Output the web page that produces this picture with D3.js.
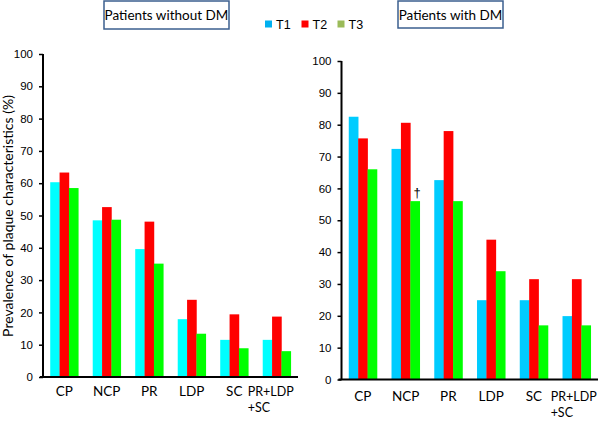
<!DOCTYPE html>
<html><head><meta charset="utf-8">
<script src="https://cdn.jsdelivr.net/npm/d3@7"></script>
<style>body{margin:0;background:#fff}svg{display:block}</style>
</head><body>
<svg id="c" width="600" height="421"></svg>
<script>
const categories = ["CP","NCP","PR","LDP","SC","PR+LDP\n+SC"];
const seriesNames = ["T1","T2","T3"];
const withoutDM_T1 = [60.3, 48.5, 39.6, 17.9, 11.5, 11.5];
const withoutDM_T2 = [63.3, 52.6, 48.1, 23.9, 19.4, 18.7];
const withoutDM_T3 = [58.5, 48.7, 35.1, 13.4, 8.9, 8.0];
const withDM_T1 = [82.5, 72.4, 62.6, 24.9, 24.9, 19.9];
const withDM_T2 = [75.7, 80.6, 78.0, 43.9, 31.5, 31.5];
const withDM_T3 = [66.0, 56.0, 56.0, 34.0, 17.0, 17.0];
const yTicks = [0,10,20,30,40,50,60,70,80,90,100];
const titles = ["Patients without DM","Patients with DM"];

const svg = d3.select("#c");
const labelFont = "Lato, 'Open Sans', sans-serif";
const tickFont = "'Liberation Sans', Arial, sans-serif";

function panel(cfg){
  const g = svg.append("g");
  const y = d3.scaleLinear().domain([0,100]).range([cfg.y0, cfg.y100]);
  const x = d3.scaleBand().domain(categories).range([cfg.x0, cfg.x1]).paddingInner(0.34).paddingOuter(0.17);
  const xs = d3.scaleBand().domain(seriesNames).range([0, x.bandwidth()]);
  const data = cfg.series;
  categories.forEach((c,i)=>{
    seriesNames.forEach((s,j)=>{
      g.append("rect")
        .attr("x", x(c)+xs(s))
        .attr("width", xs.bandwidth()+0.3)
        .attr("y", y(data[j][i]))
        .attr("height", y(0)-y(data[j][i]))
        .attr("fill", cfg.colors[j]);
    });
  });
  // y axis
  const ya = g.append("g").attr("transform",`translate(${cfg.x0},0)`)
    .call(d3.axisLeft(y).tickValues(yTicks).tickSize(4).tickPadding(6));
  ya.select(".domain").attr("stroke","#000").attr("stroke-width",2).attr("d",`M0,${cfg.y0}V${cfg.y100}`);
  ya.selectAll(".tick line").attr("stroke","#000").attr("stroke-width",1.5);
  ya.selectAll("text").attr("font-family",tickFont).attr("font-size",11.5).attr("fill","#000");
  // x axis
  g.append("line").attr("x1",cfg.x0-3).attr("x2",cfg.x1).attr("y1",y(0)).attr("y2",y(0))
    .attr("stroke","#000").attr("stroke-width",2);
  categories.forEach(c=>{
    const lines = c.split("\n");
    const multi = lines.length>1;
    const t = g.append("text").attr("font-family",labelFont).attr("font-size",multi?12.5:13.5).attr("fill","#000");
    lines.forEach((l,k)=>{
      t.append("tspan").attr("x", multi ? x(c)+x.bandwidth()/2-cfg.multiShift : x(c)+x.bandwidth()/2)
        .attr("text-anchor", multi ? "start" : "middle")
        .attr("y", y(0)+cfg.lab1+k*cfg.labStep).text(l);
    });
  });
  // title box
  g.append("rect").attr("x",cfg.box[0]).attr("y",cfg.box[1]).attr("width",cfg.box[2]).attr("height",cfg.box[3])
    .attr("fill","#fff").attr("stroke","#3b5f8f").attr("stroke-width",1.5);
  g.append("text").attr("x",cfg.box[0]+cfg.box[2]/2).attr("y",cfg.box[1]+cfg.box[3]/2+5)
    .attr("text-anchor","middle").attr("font-family",labelFont).attr("font-size",13.5).text(cfg.title);
  return {x,xs,y,g};
}

const L = panel({x0:43, x1:298, y0:377, y100:54, series:[withoutDM_T1,withoutDM_T2,withoutDM_T3],
  colors:["#00ffff","#ff0000","#00ff00"], box:[104,1,125,28], title:titles[0],
  lab1:19, labStep:16, multiShift:29});
const R = panel({x0:341.5, x1:598, y0:379.5, y100:61, series:[withDM_T1,withDM_T2,withDM_T3],
  colors:["#00ccff","#ff0000","#00ff00"], box:[398,1,105,27], title:titles[1],
  lab1:21, labStep:16, multiShift:26});

// dagger over NCP T3 (with DM)
R.g.append("text").attr("x", R.x("NCP")+R.xs("T3")+R.xs.bandwidth()/2+2).attr("y", R.y(withDM_T3[1])-4)
  .attr("text-anchor","middle").attr("font-family",tickFont).attr("font-size",13).text("†");

// legend
const legColors = ["#00b0f0","#ff0000","#9bbb59"];
const legX = [265, 301.5, 337.5];
seriesNames.forEach((s,i)=>{
  svg.append("rect").attr("x",legX[i]).attr("y",20.5).attr("width",7).attr("height",7).attr("fill",legColors[i]);
  svg.append("text").attr("x",legX[i]+11).attr("y",28.5).attr("font-family",tickFont).attr("font-size",12.5).text(s);
});

// y label
svg.append("text").attr("transform","translate(13,216) rotate(-90)").attr("text-anchor","middle")
  .attr("font-family",labelFont).attr("font-size",14).text("Prevalence of plaque characteristics (%)");
</script>
</body></html>
